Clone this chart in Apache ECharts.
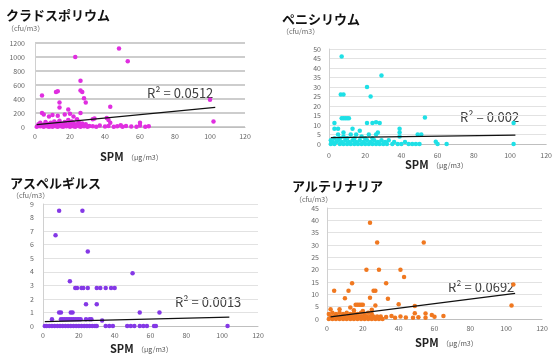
<!DOCTYPE html>
<html>
<head>
<meta charset="utf-8">
<script src="https://cdn.jsdelivr.net/npm/echarts@6/dist/echarts.min.js"></script>
<style>
  html, body { margin: 0; padding: 0; background: #fff; }
  #chart { width: 555px; height: 356px; }
</style>
</head>
<body>
<div id="chart"></div>
<script>
// values: [SPM, cfu/m3]
const cladoPoints = [
  [48, 1120], [53, 940], [23, 1000], [26, 660], [26, 520], [27, 500], [28, 410], [29, 350],
  [12, 500], [13, 510], [4, 450], [14, 350], [14, 280], [43, 290], [26, 200], [19, 250],
  [100, 390], [102, 80], [4, 200], [5, 180], [8, 150], [10, 170], [13, 160], [17, 180],
  [20, 190], [22, 150], [41, 130], [42, 100], [43, 60], [60, 60], [33, 110], [34, 120],
  [1, 5], [2, 20], [2, 40], [3, 10], [3, 60], [4, 15], [5, 5], [5, 35], [6, 20], [6, 70],
  [7, 10], [7, 45], [8, 25], [8, 5], [9, 60], [9, 15], [10, 30], [10, 5], [11, 20], [11, 80],
  [12, 10], [12, 40], [13, 5], [13, 60], [14, 25], [14, 90], [15, 10], [15, 45], [16, 30],
  [16, 5], [17, 15], [17, 70], [18, 40], [18, 10], [19, 20], [19, 100], [20, 5], [20, 50],
  [21, 30], [21, 80], [22, 10], [22, 60], [23, 25], [23, 5], [24, 40], [24, 110], [25, 15],
  [25, 70], [26, 30], [26, 5], [27, 20], [27, 50], [28, 10], [29, 40], [30, 5], [31, 15],
  [33, 10], [35, 5], [37, 20], [40, 8], [42, 15], [45, 5], [47, 10], [49, 25], [50, 5],
  [52, 15], [55, 8], [58, 5], [60, 20], [63, 5], [65, 10]
];
const peniPoints = [
  [7, 46], [6.5, 26], [8, 26], [29, 36], [21, 30], [23, 25], [7, 13.5], [8, 13.5], [9, 13.5],
  [10, 13.5], [11, 13.5], [3, 11], [21, 11], [24, 11], [26, 11.5], [28, 11], [53, 14],
  [102, 11], [102, 0], [3, 8], [5, 8], [13, 8], [39, 8], [39, 6], [39, 4], [49, 5], [51, 5],
  [60, 0], [65, 0], [59, 1.2], [48, 0],
  [1, 0], [1, 2], [2, 1], [3, 0], [3, 3], [4, 1], [5, 2], [5, 5], [6, 0], [6, 3], [7, 1],
  [8, 0], [8, 4], [9, 2], [10, 0], [10, 3], [11, 1], [12, 0], [12, 5], [13, 2], [14, 0],
  [14, 3], [15, 1], [15, 5], [16, 0], [17, 2], [18, 0], [18, 4], [19, 1], [20, 0], [20, 3],
  [21, 2], [22, 0], [22, 5], [23, 1], [24, 0], [24, 3], [25, 2], [26, 0], [26, 5], [27, 1],
  [28, 0], [29, 2], [30, 0], [31, 1], [32, 0], [33, 2], [35, 0], [36, 1], [38, 0], [40, 0],
  [42, 1], [44, 0], [46, 0], [50, 0], [8, 6], [17, 7], [27, 6]
];
const asperPoints = [
  [9, 8.5], [22, 8.5], [7, 6.7], [25, 5.5], [50, 3.9], [15, 3.3],
  [18, 2.8], [19, 2.8], [21.5, 2.8], [22.5, 2.8], [25, 2.8], [30, 2.8], [32, 2.8], [35, 2.8],
  [38, 2.8], [40, 2.8], [24, 1.6], [30, 1.6],
  [9, 1], [10, 1], [15.5, 1], [16.5, 1], [54, 1], [65, 1],
  [5, 0.5], [10, 0.5], [11, 0.5], [12, 0.5], [13, 0.5], [14, 0.5], [15, 0.5], [16, 0.5],
  [17, 0.5], [18, 0.5], [19, 0.5], [20, 0.5], [21, 0.5], [24, 0.5], [26, 0.5], [27, 0.5],
  [33, 0.4],
  [1, 0], [2, 0], [3.5, 0], [5, 0], [6.5, 0], [8, 0], [9.5, 0], [11, 0], [12.5, 0], [14, 0],
  [15.5, 0], [17, 0], [18.5, 0], [20, 0], [21.5, 0], [23, 0], [24.5, 0], [26, 0], [27.5, 0],
  [29, 0], [30, 0], [35, 0], [37, 0], [39, 0], [47, 0], [49, 0], [51, 0], [54, 0], [56, 0],
  [58, 0], [62, 0], [63, 0], [103, 0]
];
const alterPoints = [
  [24, 39], [28, 31], [54, 31], [22, 20], [29, 20], [41, 20], [43, 17], [33, 14.5], [14, 14.5],
  [4, 11.5], [12, 11.5], [26, 11.5], [27, 11.5], [10, 8.4], [24, 8.6], [34, 8.2], [7, 4],
  [13, 4.7], [16, 5.8], [17, 5.8], [18, 5.8], [19, 5.8], [20, 5.8], [27, 5.5], [40, 6],
  [49, 5.3], [49, 2.3], [55, 2.2], [104, 14], [103, 5.5], [58.5, 1.6], [60, 0.9], [65, 1.2],
  [33, 0.8], [36, 1.2], [38, 0.5], [41, 1], [44, 0.6], [48, 0.5], [51, 0.7], [55, 0.5],
  [2, 4], [15, 3.5], [20, 3.2], [25, 3.8],
  [1, 0], [1, 2], [2, 1], [3, 0], [3, 2.5], [4, 1], [5, 0], [5, 2], [6, 1], [7, 0], [7, 2.5],
  [8, 1], [9, 0], [9, 2], [10, 1], [11, 0], [11, 2.5], [12, 1], [13, 0], [13, 2], [14, 1],
  [15, 0], [15, 2.5], [16, 1], [17, 0], [17, 2], [18, 1], [19, 0], [19, 2.5], [20, 1], [21, 0],
  [21, 2], [22, 1], [23, 0], [23, 2.5], [24, 1], [25, 0], [25, 2], [26, 1], [27, 0], [28, 1],
  [29, 0], [30, 1], [31, 0]
];

// trend line end points
const cladoTrend = [[1, 35], [103, 280]];
const peniTrend = [[1, 3.4], [103, 4.7]];
const asperTrend = [[1, 0.33], [104, 0.66]];
const alterTrend = [[2, 0.9], [105, 10.4]];

const titles = ['クラドスポリウム', 'ペニシリウム', 'アスペルギルス', 'アルテリナリア'];
const r2Labels = ['R² = 0.0512', 'R² = 0.002', 'R² = 0.0013', 'R² = 0.0692'];
const yMax = [1200, 50, 9, 45];
const yStep = [200, 5, 1, 5];
const xMax = 120;
const xStep = 20;

const colors = ['#e02ee0', '#1ee0e6', '#8438e6', '#f07820'];
const points = [cladoPoints, peniPoints, asperPoints, alterPoints];
const trends = [cladoTrend, peniTrend, asperTrend, alterTrend];

const grids = [
  { left: 35, top: 43, width: 210, height: 84 },
  { left: 329, top: 49, width: 223, height: 95 },
  { left: 43, top: 204, width: 215, height: 122 },
  { left: 327, top: 208, width: 215, height: 111 }
];
const gridLineColor = ['#bdbdbd', '#e2e2e2', '#e2e2e2', '#e2e2e2'];
const yMargin = [10, 8, 9, 8];
const xMargin = [6, 8, 6, 6];

// title, unit, R², SPM label positions
const titlePos = [[6, 9], [282, 13], [10, 177], [292, 180]];
const unitPos = [[7, 25], [282, 28], [12, 192], [295, 196]];
const r2Pos = [[147, 87], [460, 111], [175, 296], [448, 281]];
const spmPos = [[100, 151], [405, 159], [110, 343], [415, 337]];

const font = '"Noto Sans CJK JP", "Noto Sans", sans-serif';
const chart = echarts.init(document.getElementById('chart'));

const graphic = [];
titles.forEach((t, i) => {
  graphic.push({ type: 'text', left: titlePos[i][0], top: titlePos[i][1],
    style: { text: t, font: 'bold 13px ' + font, fill: '#111' } });
  graphic.push({ type: 'text', left: unitPos[i][0], top: unitPos[i][1],
    style: { text: '（cfu/m3）', font: '7px ' + font, fill: '#666' } });
  graphic.push({ type: 'text', left: r2Pos[i][0], top: r2Pos[i][1],
    style: { text: r2Labels[i], font: '13px ' + font, fill: '#404040' } });
  graphic.push({ type: 'text', left: spmPos[i][0], top: spmPos[i][1],
    style: {
      text: '{a|SPM} {b|（μg/m3）}',
      rich: {
        a: { fontSize: 11, fontFamily: font, fill: '#222', fontWeight: 'bold' },
        b: { fontSize: 7, fontFamily: font, fill: '#555' }
      }
    } });
});

chart.setOption({
  backgroundColor: '#fff',
  animation: false,
  grid: grids.map((g) => ({ ...g, containLabel: false })),
  xAxis: grids.map((g, i) => ({
    type: 'value', gridIndex: i, min: 0, max: xMax, interval: xStep,
    axisLine: { show: true, lineStyle: { color: '#bfbfbf' } },
    axisTick: { show: false },
    splitLine: { show: false },
    axisLabel: { fontSize: 7, color: '#666', margin: xMargin[i], fontFamily: font }
  })),
  yAxis: grids.map((g, i) => ({
    type: 'value', gridIndex: i, min: 0, max: yMax[i], interval: yStep[i],
    axisLine: { show: true, lineStyle: { color: '#d0d0d0' } },
    axisTick: { show: false },
    splitLine: { show: true, lineStyle: { color: gridLineColor[i], width: i === 0 ? 1.5 : 1 } },
    axisLabel: {
      fontSize: 7, color: '#666', margin: yMargin[i], fontFamily: font,
      formatter: (v) => String(v)
    }
  })),
  graphic,
  series: [
    ...points.map((p, i) => ({
      type: 'scatter', xAxisIndex: i, yAxisIndex: i, data: p,
      symbol: 'circle', symbolSize: 4.5,
      itemStyle: { color: colors[i], opacity: 1 }
    })),
    ...trends.map((t, i) => ({
      type: 'line', xAxisIndex: i, yAxisIndex: i, data: t,
      symbol: 'none', lineStyle: { color: '#111', width: 1.3 }, z: 5
    }))
  ]
});
</script>
</body>
</html>
